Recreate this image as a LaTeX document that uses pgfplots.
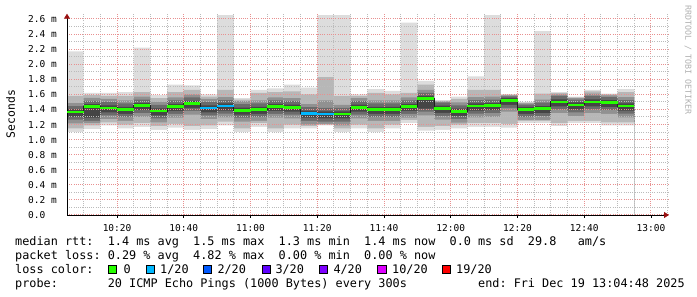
\documentclass[border=0pt]{standalone}
\usepackage{pgfplots}
\usepackage{pgfplotstable}
\pgfplotsset{compat=1.18}
\usepackage{fontspec}
\setmainfont{DejaVu Sans Mono}
\usetikzlibrary{arrows.meta}
\definecolor{cA}{HTML}{DDDDDD}
\definecolor{cB}{HTML}{B7B7B7}
\definecolor{cC}{HTML}{919191}
\definecolor{cD}{HTML}{6B6B6B}
\definecolor{cE}{HTML}{454545}
\definecolor{lossA}{HTML}{26FF00}
\definecolor{lossB}{HTML}{00B8FF}
\definecolor{lossC}{HTML}{0059FF}
\definecolor{lossD}{HTML}{5E00FF}
\definecolor{lossE}{HTML}{7E00FF}
\definecolor{lossF}{HTML}{DD00FF}
\definecolor{lossG}{HTML}{FF0000}
\definecolor{gridred}{HTML}{E89090}
\definecolor{gridgray}{HTML}{BBBBBB}
\definecolor{arrowred}{HTML}{9A1010}
\definecolor{rrdgray}{HTML}{B0B0B0}
\newcommand{\legfont}{\fontsize{11.83bp}{13.8bp}\selectfont\frenchspacing}
\pgfplotsset{rrdframe/.style={at={(67bp,82bp)}, anchor=south west,
  scale only axis, width=602bp, height=201.3bp,
  xmin=0, xmax=180.4, ymin=0, ymax=2.67}}
\begin{document}
\pgfplotstableread{
x min l2lo l3lo l4lo l5lo l5hi l4hi l3hi l2hi max med
0 1.10 1.15 1.215 1.265 1.305 1.40 1.445 1.485 1.58 2.17 1.365
5 1.14 1.19 1.22 1.25 1.29 1.47 1.515 1.555 1.59 1.62 1.436
10 1.19 1.23 1.27 1.32 1.36 1.455 1.50 1.54 1.58 1.62 1.42
15 1.15 1.20 1.25 1.30 1.34 1.435 1.48 1.52 1.58 1.63 1.40
20 1.17 1.22 1.30 1.35 1.39 1.485 1.53 1.57 1.63 2.22 1.45
25 1.13 1.18 1.23 1.28 1.32 1.415 1.46 1.50 1.55 1.59 1.38
30 1.16 1.21 1.29 1.34 1.38 1.475 1.52 1.56 1.63 1.73 1.44
35 1.13 1.18 1.33 1.38 1.42 1.515 1.56 1.60 1.66 1.72 1.48
40 1.14 1.19 1.27 1.32 1.36 1.455 1.50 1.54 1.57 1.60 1.42
45 1.19 1.24 1.295 1.345 1.385 1.48 1.525 1.565 1.66 2.65 1.445
50 1.10 1.15 1.24 1.29 1.33 1.425 1.47 1.51 1.53 1.55 1.39
55 1.17 1.22 1.25 1.30 1.34 1.435 1.48 1.52 1.62 1.66 1.40
60 1.10 1.15 1.29 1.34 1.38 1.475 1.52 1.56 1.63 1.68 1.44
65 1.15 1.20 1.28 1.33 1.37 1.465 1.51 1.55 1.64 1.73 1.43
70 1.15 1.18 1.20 1.25 1.29 1.385 1.43 1.47 1.60 1.69 1.35
75 1.19 1.20 1.21 1.24 1.28 1.375 1.42 1.52 1.83 2.65 1.34
80 1.10 1.15 1.19 1.24 1.28 1.375 1.42 1.46 1.58 2.65 1.34
85 1.15 1.20 1.28 1.33 1.37 1.465 1.51 1.55 1.58 1.60 1.43
90 1.10 1.15 1.25 1.30 1.34 1.435 1.48 1.52 1.62 1.67 1.40
95 1.15 1.20 1.25 1.30 1.34 1.435 1.48 1.52 1.60 1.645 1.40
100 1.22 1.26 1.29 1.34 1.38 1.475 1.52 1.56 1.62 2.55 1.44
105 1.12 1.17 1.32 1.37 1.41 1.58 1.62 1.66 1.73 1.78 1.545
110 1.13 1.18 1.265 1.315 1.355 1.45 1.49 1.505 1.515 1.525 1.415
115 1.15 1.20 1.225 1.275 1.315 1.41 1.455 1.495 1.54 1.57 1.375
120 1.17 1.22 1.295 1.345 1.385 1.48 1.525 1.565 1.66 1.84 1.445
125 1.17 1.22 1.30 1.35 1.39 1.485 1.53 1.57 1.66 2.65 1.45
130 1.16 1.21 1.37 1.42 1.46 1.555 1.575 1.585 1.595 1.60 1.52
135 1.22 1.25 1.26 1.30 1.34 1.435 1.465 1.48 1.49 1.50 1.40
140 1.22 1.25 1.26 1.31 1.35 1.445 1.49 1.53 1.61 2.44 1.41
145 1.18 1.22 1.35 1.40 1.44 1.535 1.58 1.60 1.615 1.63 1.50
150 1.22 1.25 1.31 1.36 1.40 1.495 1.53 1.55 1.56 1.57 1.46
155 1.22 1.25 1.35 1.40 1.44 1.535 1.58 1.61 1.64 1.66 1.50
160 1.19 1.23 1.34 1.39 1.43 1.525 1.565 1.585 1.60 1.61 1.49
165 1.19 1.23 1.295 1.345 1.385 1.48 1.525 1.565 1.63 1.67 1.445
170 1.19 1.23 1.295 1.345 1.385 1.48 1.525 1.565 1.63 1.67 1.445
}\smoke
\begin{tikzpicture}
\useasboundingbox (0,0) rectangle (697bp,297bp);
\begin{axis}[
  rrdframe,
  axis on top, axis lines=left,
  axis line style={black, line width=0.8bp},
  x axis line style={-{Triangle[length=5bp,width=6bp,color=arrowred]}},
  y axis line style={-{Triangle[length=5bp,width=6bp,color=arrowred]}},
  xtick={15,35,55,75,95,115,135,155,175},
  xticklabels={10:20,10:40,11:00,11:20,11:40,12:00,12:20,12:40,13:00},
  minor xtick={5,10,20,25,30,40,45,50,60,65,70,80,85,90,100,105,110,120,125,130,140,145,150,160,165,170,180},
  ytick={0,0.2,0.4,0.6,0.8,1.0,1.2,1.4,1.6,1.8,2.0,2.2,2.4,2.6},
  yticklabels={0.0,0.2 m,0.4 m,0.6 m,0.8 m,1.0 m,1.2 m,1.4 m,1.6 m,1.8 m,2.0 m,2.2 m,2.4 m,2.6 m},
  minor ytick={0.1,0.3,0.5,0.7,0.9,1.1,1.3,1.5,1.7,1.9,2.1,2.3,2.5},
  grid=both,
  major grid style={draw=gridred, dash pattern=on 1bp off 1.2bp, line width=1bp},
  minor grid style={draw=gridgray, dash pattern=on 1bp off 1.2bp, line width=1bp},
  tick label style={font=\fontsize{9.5bp}{10bp}\selectfont, text=black},
  yticklabel style={anchor=west, xshift=-36bp, inner sep=0pt},
  xticklabel style={yshift=-3bp},
  ytick style={draw=none}, minor tick length=0pt,
  xtick style={draw=black, line width=0.6bp}, major tick length=3bp, tick align=outside,
]
\addplot[draw=none, fill=cA, const plot mark left] table[x=x,y=max]{\smoke} \closedcycle;
\addplot[draw=none, fill=cB, const plot mark left] table[x=x,y=l2hi]{\smoke} \closedcycle;
\addplot[draw=none, fill=cC, const plot mark left] table[x=x,y=l3hi]{\smoke} \closedcycle;
\addplot[draw=none, fill=cD, const plot mark left] table[x=x,y=l4hi]{\smoke} \closedcycle;
\addplot[draw=none, fill=cE, const plot mark left] table[x=x,y=l5hi]{\smoke} \closedcycle;
\addplot[draw=none, fill=cD, const plot mark left] table[x=x,y=l5lo]{\smoke} \closedcycle;
\addplot[draw=none, fill=cC, const plot mark left] table[x=x,y=l4lo]{\smoke} \closedcycle;
\addplot[draw=none, fill=cB, const plot mark left] table[x=x,y=l3lo]{\smoke} \closedcycle;
\addplot[draw=none, fill=cA, const plot mark left] table[x=x,y=l2lo]{\smoke} \closedcycle;
\addplot[draw=none, fill=white, const plot mark left] table[x=x,y=min]{\smoke} \closedcycle;
\end{axis}
\begin{axis}[rrdframe, hide axis]
\addplot[const plot mark left, draw=black!88, line width=0.9bp] table[x=x,y=med]{\smoke};
\addplot[quiver={u=5,v=0}, draw=lossA, line width=2.8bp] coordinates {
(0,1.365)(5,1.436)(10,1.42)(15,1.40)(20,1.45)(25,1.38)(30,1.44)(35,1.48)
(50,1.39)(55,1.40)(60,1.44)(65,1.43)(80,1.34)(85,1.43)(90,1.40)(95,1.40)
(100,1.44)(105,1.545)(110,1.415)(115,1.375)(120,1.445)(125,1.45)(130,1.52)
(135,1.40)(140,1.41)(145,1.50)(150,1.46)(155,1.50)(160,1.49)(165,1.445)};
\addplot[quiver={u=5,v=0}, draw=lossB, line width=2.8bp] coordinates {
(40,1.42)(45,1.445)(70,1.35)(75,1.34)};
\end{axis}
\node[rotate=90, font=\fontsize{11.4bp}{12bp}\selectfont, inner sep=0pt] at (10.5bp,183bp) {Seconds};
\node[rotate=-90, font=\fontsize{8.3bp}{9bp}\selectfont, text=rrdgray, inner sep=0pt] at (688bp,237bp) {RRDTOOL / TOBI OETIKER};
\node[anchor=base west, inner sep=0pt, font=\legfont] at (15bp,51.5bp) {median rtt:\ \ 1.4 ms avg\ \ 1.5 ms max\ \ 1.3 ms min\ \ 1.4 ms now\ \ 0.0 ms sd\ \ 29.8\ \ \ am/s};
\node[anchor=base west, inner sep=0pt, font=\legfont] at (15bp,37.7bp) {packet loss: 0.29 \% avg\ \ 4.82 \% max\ \ 0.00 \% min\ \ 0.00 \% now};
\node[anchor=base west, inner sep=0pt, font=\legfont] at (15bp,23.8bp) {loss color:};
\node[anchor=base west, inner sep=0pt, font=\legfont] at (15bp,10bp) {probe:\ \ \ \ \ \ \ 20 ICMP Echo Pings (1000 Bytes) every 300s\ \ \ \ \ \ \ \ \ \ end: Fri Dec 19 13:04:48 2025};
\foreach \bx/\lx/\col/\lab in {108/123.3/lossA/0, 146/160/lossB/1\slash 20, 203/217.3/lossC/2\slash 20, 262/275.3/lossD/3\slash 20, 319/333.3/lossE/4\slash 20, 377.7/392/lossF/10\slash 20, 442/456/lossG/19\slash 20}{
  \draw[fill=\col, line width=0.6bp] (\bx bp,23.9bp) rectangle ++(8.3bp,7.6bp);
  \node[anchor=base west, inner sep=0pt, font=\legfont] at (\lx bp,23.8bp) {\lab};
}
\end{tikzpicture}
\end{document}
